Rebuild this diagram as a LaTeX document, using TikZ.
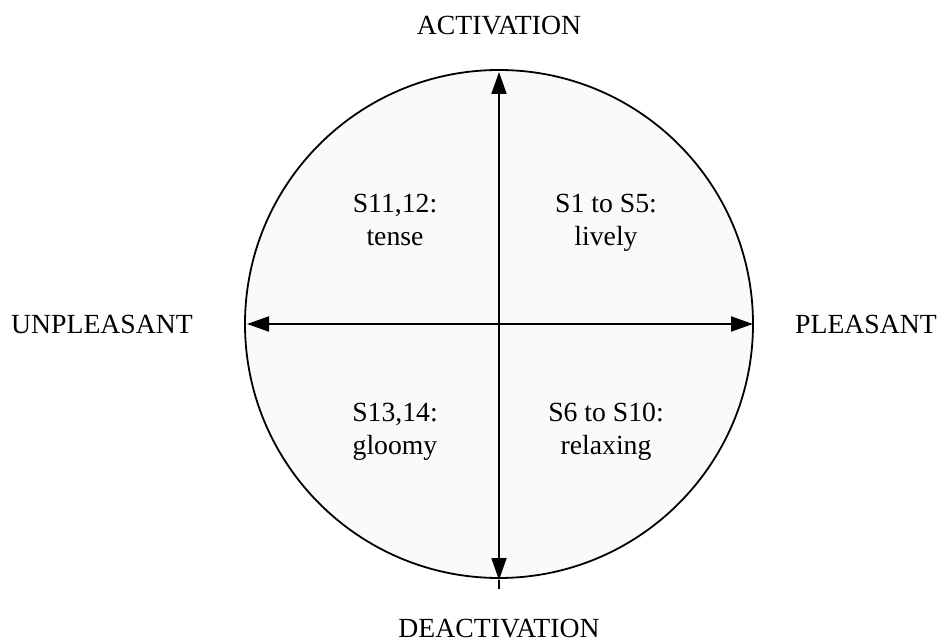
\documentclass[tikz,border=0pt]{standalone}
\usepackage{fontspec}
\setmainfont{Liberation Serif}
\usetikzlibrary{arrows.meta}
\definecolor{discfill}{HTML}{FAFAFA}
\begin{document}
\begin{tikzpicture}[x=1pt,y=1pt,
  every node/.style={inner sep=0pt,font=\fontsize{27.7}{33}\selectfont},
  disc/.style={draw=black,line width=1.8pt,fill=discfill},
  axis/.style={line width=1.8pt},
  tip/.style={-{Triangle[length=22pt,width=15pt]}},
  lbl/.style={anchor=base}]
% canvas
\useasboundingbox (0,0) rectangle (940,643);

% circle of the affect space
\node[disc,circle,minimum size=508pt] (disc) at (499,319) {};

% axis end points
\coordinate (ctr) at (499,319);
\coordinate (top) at (499,571);
\coordinate (bot) at (499,63);
\coordinate (botend) at (499,54);
\coordinate (lft) at (247,319);
\coordinate (rgt) at (753,319);

% axes with arrowheads
\draw[axis,tip] (ctr) -- (top);
\draw[axis,tip] (ctr) -- (bot);
\draw[axis] (bot) -- (botend);
\draw[axis,tip] (ctr) -- (lft);
\draw[axis,tip] (ctr) -- (rgt);

% axis labels
\node[lbl] (act) at (499,608) {ACTIVATION};
\node[lbl] (deact) at (499,6) {DEACTIVATION};
\node[anchor=base west] (unpl) at (11,309) {UNPLEASANT};
\node[anchor=base west] (pl) at (795,309) {PLEASANT};

% quadrant labels
\node[lbl] (tlA) at (395,430) {S11,12:};
\node[lbl] (tlB) at (395,397) {tense};
\node[lbl] (trA) at (606,430) {S1 to S5:};
\node[lbl] (trB) at (606,397) {lively};
\node[lbl] (blA) at (395,221) {S13,14:};
\node[lbl] (blB) at (395,188) {gloomy};
\node[lbl] (brA) at (606,221) {S6 to S10:};
\node[lbl] (brB) at (606,188) {relaxing};
\end{tikzpicture}
\end{document}
